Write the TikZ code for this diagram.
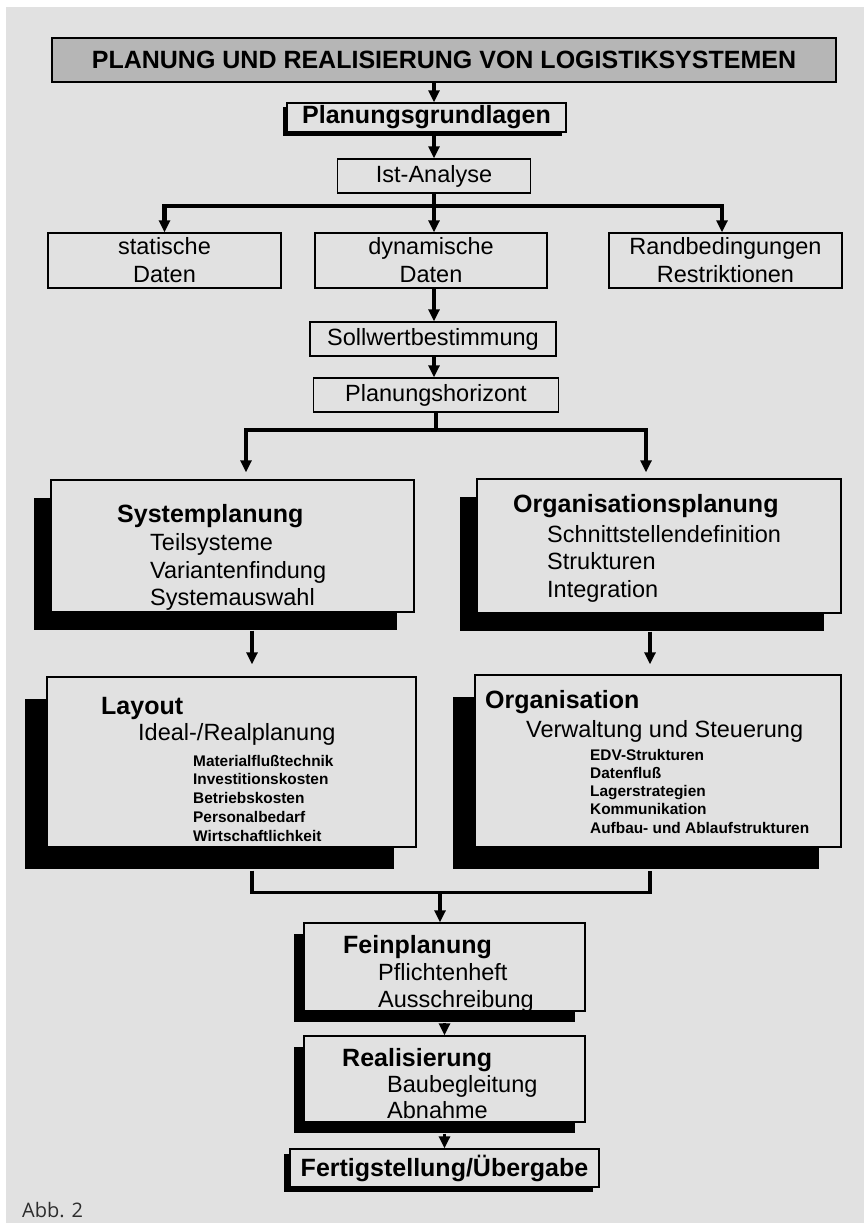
\documentclass[tikz,border=0pt]{standalone}
\usepackage{fontspec}
\setmainfont{Liberation Sans}
\newfontfamily\abbfont{Open Sans}
\usetikzlibrary{arrows.meta,calc,shadows,positioning}
\definecolor{bgcol}{RGB}{225,225,225}
\definecolor{titlecol}{RGB}{182,182,182}
\definecolor{abbcol}{RGB}{45,45,45}
\newcommand\fsreg{\fontsize{23.5}{28}\selectfont}
\newcommand\fshead{\fontsize{25}{28}\selectfont\bfseries}
\newcommand\fssmall{\fontsize{15.4}{18}\selectfont\bfseries}

\begin{document}
\begin{tikzpicture}[x=1pt,y=-1pt,
  box/.style={draw=black,line width=1.4pt,fill=bgcol,inner sep=0pt,align=center,font=\fsreg},
  shbox/.style 2 args={box,drop shadow={shadow xshift=#1,shadow yshift=#2,fill=black,opacity=1}},
  txt/.style={inner sep=0pt,anchor=base west,font=\fsreg},
  hd/.style={txt,font=\fshead},
  sm/.style={txt,font=\fssmall},
  line/.style={line width=3.5pt},
  bar/.style={line width=4.5pt},
  arr/.style={line width=3.5pt,-{Triangle[length=12pt,width=11pt]}}]
  \fill[white] (0,0) rectangle (864,1223);
  \fill[bgcol] (6,7) rectangle (864,1223);
  \useasboundingbox (0,0) rectangle (864,1223);

  % boxes
  \node[box,fill=titlecol,minimum width=784pt,minimum height=44pt,font=\fshead] (title) at (444,60) {PLANUNG UND REALISIERUNG VON LOGISTIKSYSTEMEN};
  \node[shbox={-4pt}{-4pt},minimum width=279pt,minimum height=29pt,font=\fshead] (grund) at (426.5,117.5) {Planungsgrundlagen};
  \node[box,minimum width=193pt,minimum height=34pt] (ist) at (434,176) {Ist-Analyse};
  \node[box,minimum width=233pt,minimum height=55pt] (stat) at (164.5,260.5) {statische\\Daten};
  \node[box,minimum width=232pt,minimum height=55pt] (dyn) at (431,260.5) {dynamische\\Daten};
  \node[box,minimum width=233pt,minimum height=55pt] (rand) at (725.5,260.5) {Randbedingungen\\Restriktionen};
  \node[box,minimum width=246pt,minimum height=34pt] (soll) at (433,339) {Sollwertbestimmung};
  \node[box,minimum width=245pt,minimum height=34pt] (hor) at (436,395) {Planungshorizont};
  \node[shbox={-17pt}{-18pt},minimum width=363pt,minimum height=132pt] (sys) at (232.5,546) {};
  \node[shbox={-17pt}{-18pt},minimum width=364pt,minimum height=134pt] (orgpl) at (659,546) {};
  \node[shbox={-22pt}{-22pt},minimum width=369pt,minimum height=170pt] (layout) at (231.5,762) {};
  \node[shbox={-22pt}{-22pt},minimum width=366pt,minimum height=172pt] (org) at (658,761) {};
  \node[shbox={-10pt}{-11pt},minimum width=281pt,minimum height=88pt] (fein) at (444.5,967) {};
  \node[shbox={-10pt}{-11pt},minimum width=281pt,minimum height=86pt] (real) at (444.5,1079) {};
  \node[shbox={-6pt}{-5pt},minimum width=309pt,minimum height=38pt,font=\fshead] (fertig) at (444.5,1168) {Fertigstellung/Übergabe};

  % box texts
  \node[hd] (sysh) at (117,522) {Systemplanung};
  \node[txt] (sys1) at (150,550) {Teilsysteme};
  \node[txt] (sys2) at (150,578) {Variantenfindung};
  \node[txt] (sys3) at (150,605) {Systemauswahl};
  \node[hd] (orgplh) at (513,512) {Organisationsplanung};
  \node[txt] (orgpl1) at (547,542) {Schnittstellendefinition};
  \node[txt] (orgpl2) at (547,569) {Strukturen};
  \node[txt] (orgpl3) at (547,597) {Integration};
  \node[hd] (layouth) at (101,714) {Layout};
  \node[txt] (layout0) at (138,740) {Ideal-/Realplanung};
  \node[sm] (layout1) at (193,766) {Materialflußtechnik};
  \node[sm] (layout2) at (193,784.75) {Investitionskosten};
  \node[sm] (layout3) at (193,803.5) {Betriebskosten};
  \node[sm] (layout4) at (193,822.25) {Personalbedarf};
  \node[sm] (layout5) at (193,841) {Wirtschaftlichkeit};
  \node[hd] (orgh) at (485,708) {Organisation};
  \node[txt] (org0) at (526,737) {Verwaltung und Steuerung};
  \node[sm] (org1) at (590,760) {EDV-Strukturen};
  \node[sm] (org2) at (590,778.25) {Datenfluß};
  \node[sm] (org3) at (590,796.5) {Lagerstrategien};
  \node[sm] (org4) at (590,814.75) {Kommunikation};
  \node[sm] (org5) at (590,833) {Aufbau- und Ablaufstrukturen};
  \node[hd] (feinh) at (343,953) {Feinplanung};
  \node[txt] (fein1) at (378,980) {Pflichtenheft};
  \node[txt] (fein2) at (378,1007) {Ausschreibung};
  \node[hd] (realh) at (342,1066) {Realisierung};
  \node[txt] (real1) at (387,1092) {Baubegleitung};
  \node[txt] (real2) at (387,1118) {Abnahme};
  \node[inner sep=0pt,anchor=base west,font=\abbfont\fontsize{20}{24}\selectfont,text=abbcol] (abb) at (22,1217) {Abb. 2};

  % connectors
  \draw[arr] (title.south -| ist) -- (grund.north -| ist);
  \draw[arr] (grund.south -| ist) -- (ist.north);
  \coordinate (fork) at (434,206);
  \draw[bar] (ist.south) -- (fork);
  \draw[arr,bar] (fork) -| (stat.north);
  \draw[arr,bar] (fork) -| ($(rand.north)+(-3.5,0)$);
  \draw[arr,bar] (fork) -- (dyn.north -| fork);
  \draw[arr] (dyn.south -| ist) -- (soll.north -| ist);
  \draw[arr] (soll.south -| ist) -- (hor.north -| ist);
  \coordinate (split) at (436,430);
  \draw[line] (hor.south) -- (split);
  \draw[arr] (split) -| ($(sys.north)+(13.5,-7)$);
  \draw[arr] (split) -| ($(orgpl.north)+(-13,-6)$);
  \draw[arr] ($(sys.south)+(19.5,18)$) -- ($(layout.north)+(20.5,-12)$);
  \draw[arr] ($(orgpl.south)+(-9,18)$) -- ($(org.north)+(-8,-10)$);
  \coordinate (merge) at (440,892);
  \draw[line] ($(layout.south)+(20.5,23)$) |- ($(org.south)+(-8,45)$) -- ($(org.south)+(-8,23)$);
  \draw[arr] (merge) -- (merge |- fein.north);
  \draw[arr] ($(fein.south)+(0,11)$) -- (real.north);
  \draw[arr] ($(real.south)+(0,11)$) -- (fertig.north);
\end{tikzpicture}
\end{document}
